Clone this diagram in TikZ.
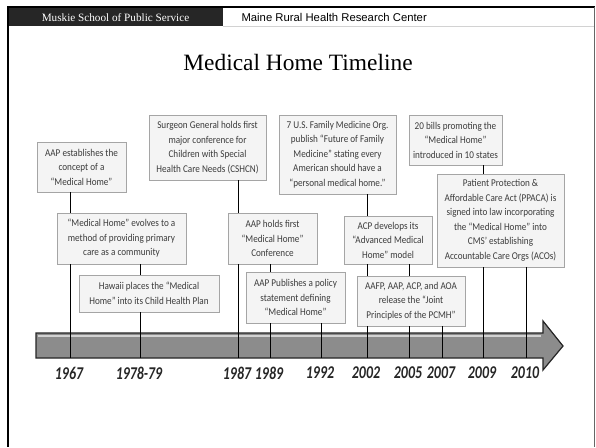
\documentclass[tikz,border=0pt]{standalone}
\usepackage{fontspec}
\setmainfont{Liberation Serif}
\newfontfamily\headsans{Liberation Sans}
\newfontfamily\boxfont[FakeStretch=0.88]{Carlito}
\newfontfamily\yearfont[FakeStretch=0.77]{Carlito}
\definecolor{boxline}{RGB}{165,165,165}
\definecolor{boxfill}{RGB}{244,244,244}
\definecolor{boxtext}{RGB}{60,60,60}
\definecolor{bandgray}{RGB}{140,140,140}
\definecolor{headbar}{RGB}{38,38,38}

\begin{document}
\begin{tikzpicture}[x=1pt, y=-1pt,
    event/.style={draw=boxline, fill=boxfill, line width=0.8pt, align=center, inner sep=0pt,
        text=boxtext, font=\boxfont\fontsize{10.4}{14.5}\selectfont},
    year/.style={text=black!85, font=\yearfont\bfseries\itshape\fontsize{18}{18}\selectfont},
    tick/.style={black, line width=0.9pt}]
    \useasboundingbox (0,0) rectangle (596,447);
    \fill[white] (0,0) rectangle (596,447);

    % slide frame and header
    \fill[headbar] (8,7) rectangle (223,26);
    \draw[gray!35] (223,26) -- (594,26);
    \draw[line width=2pt] (7,7) -- (595,7);
    \draw[line width=2.5pt] (8,6) -- (8,447);
    \draw[gray!80!black, line width=1pt] (594,7) -- (594,447);
    \node[text=white, font=\fontsize{11.2}{13}\selectfont] (school) at (115.5,17.5) {Muskie School of Public Service};
    \node[anchor=west, font=\headsans\fontsize{11.3}{13}\selectfont] (center) at (238,17.5) {Maine Rural Health Research Center};
    \node[font=\fontsize{23.4}{26}\selectfont] (title) at (298,62) {Medical Home Timeline};

    % timeline arrow
    \draw[fill=bandgray, draw=black!85, line width=1.2pt] (36,333) -- (543,333) -- (543,321) -- (563,346)
        -- (543,370) -- (543,358) -- (36,358) -- cycle;
    \draw[gray!35, line width=2pt] (37.5,335.5) -- (541,335.5);

    \foreach \x/\yr in {70/1967, 140/1978-79, 238/1987, 270/1989, 321/1992,
                        367/2002, 409/2005, 442/2007, 483/2009, 526/2010}
    {
        \coordinate (t\yr) at (\x,358);
        \node[year] (lab\yr) at (\x-1,373) {\yr};
    }

    % events
    \node[event, minimum width=89pt, minimum height=50pt] (estab) at (81.5,167)
        {AAP establishes the\\concept of a\\“Medical Home”};
    \node[event, minimum width=129pt, minimum height=51pt] (evolves) at (121.5,238.5)
        {“Medical Home” evolves to a\\method of providing primary\\care as a community};
    \node[event, minimum width=140pt, minimum height=37pt] (hawaii) at (149,293.5)
        {Hawaii places the “Medical\\Home” into its Child Health Plan};
    \node[event, minimum width=117pt, minimum height=65pt] (surgeon) at (207.5,147.5)
        {Surgeon General holds first\\major conference for\\Children with Special\\Health Care Needs (CSHCN)};
    \node[event, minimum width=89pt, minimum height=51pt] (aapconf) at (272.5,238.5)
        {AAP holds first\\“Medical Home”\\Conference};
    \node[event, minimum width=99pt, minimum height=51pt] (policy) at (295.5,297.5)
        {AAP Publishes a policy\\statement defining\\“Medical Home”};
    \node[event, minimum width=117pt, minimum height=79pt] (family) at (337.5,154.5)
        {7 U.S. Family Medicine Org.\\publish “Future of Family\\Medicine” stating every\\American should have a\\“personal medical home.”};
    \node[event, minimum width=88pt, minimum height=48pt] (acp) at (388,240)
        {ACP develops its\\“Advanced Medical\\Home” model};
    \node[event, minimum width=108pt, minimum height=50pt] (joint) at (411,301)
        {AAFP, AAP, ACP, and AOA\\release the “Joint\\Principles of the PCMH”};
    \node[event, minimum width=93pt, minimum height=50pt] (bills) at (455.5,140)
        {20 bills promoting the\\“Medical Home”\\introduced in 10 states};
    \node[event, minimum width=127pt, minimum height=93pt] (ppaca) at (500.5,220.5)
        {Patient Protection \&\\Affordable Care Act (PPACA) is\\signed into law incorporating\\the “Medical Home” into\\CMS’ establishing\\Accountable Care Orgs (ACOs)};

    % connectors
    \draw[tick] (estab.south -| t1967) -- (evolves.north -| t1967);
    \draw[tick] (evolves.south -| t1967) -- (t1967);
    \draw[tick] (evolves.south -| t1978-79) -- (hawaii.north -| t1978-79);
    \draw[tick] (hawaii.south -| t1978-79) -- (t1978-79);
    \draw[tick] (surgeon.south -| t1987) -- (aapconf.north -| t1987);
    \draw[tick] (aapconf.south -| t1987) -- (t1987);
    \draw[tick] (aapconf.south -| t1989) -- (policy.north -| t1989);
    \draw[tick] (policy.south -| t1989) -- (t1989);
    \draw[tick] (policy.south -| t1992) -- (t1992);
    \draw[tick] (family.south -| t2002) -- (acp.north -| t2002);
    \draw[tick] (acp.south -| t2002) -- (joint.north -| t2002);
    \draw[tick] (joint.south -| t2002) -- (t2002);
    \draw[tick] (acp.south -| t2005) -- (joint.north -| t2005);
    \draw[tick] (joint.south -| t2005) -- (t2005);
    \draw[tick] (joint.south -| t2007) -- (t2007);
    \draw[tick] (bills.south -| t2009) -- (ppaca.north -| t2009);
    \draw[tick] (ppaca.south -| t2009) -- (t2009);
    \draw[tick] (ppaca.south -| t2010) -- (t2010);
\end{tikzpicture}
\end{document}
